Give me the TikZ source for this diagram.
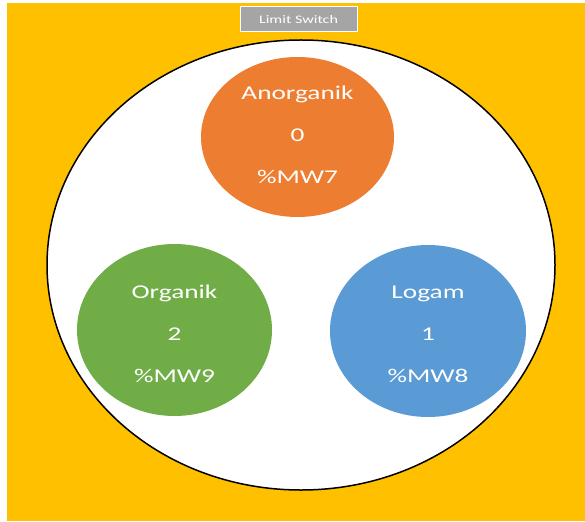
\documentclass[tikz,border=0pt]{standalone}
\usepackage{fontspec}
\setmainfont{Carlito}
\newfontfamily\widefont[FakeStretch=1.4]{Carlito}
\usetikzlibrary{shapes.geometric}
\definecolor{backgold}{HTML}{FFC000}
\definecolor{anorgorange}{HTML}{ED7D31}
\definecolor{orggreen}{HTML}{70AD47}
\definecolor{logamblue}{HTML}{5B9BD5}
\definecolor{switchgray}{HTML}{A5A5A5}
\begin{document}
\begin{tikzpicture}[
		x=1pt, y=-1pt,
		bin/.style={ellipse, inner sep=0, draw=none},
		bintext/.style={text=white, align=center, font=\widefont\fontsize{19.5}{42}\selectfont},
	]
	\useasboundingbox (0,0) rectangle (585,521);
	\fill[backgold] (7,3) rectangle (585,521);
	\node[draw=white, fill=switchgray, line width=1pt, minimum width=117, minimum height=25, inner sep=0,
		text=white, font=\widefont\fontsize{11.5}{12}\selectfont] (switch) at (298.5,19.5) {Limit Switch};
	\node[ellipse, draw=black, fill=white, line width=1.5pt, minimum width=508, minimum height=450, inner sep=0] (board) at (301,265) {};
	\node[bin, fill=anorgorange, minimum width=193, minimum height=160] (anorg) at (297.5,137) {};
	\node[bintext] (anorgtext) at (297.5,135) {Anorganik\\0\\\%MW7};
	\node[bin, fill=orggreen, minimum width=195, minimum height=172] (org) at (174.5,330) {};
	\node[bintext] (orgtext) at (174.5,334) {Organik\\2\\\%MW9};
	\node[bin, fill=logamblue, minimum width=196, minimum height=172] (logam) at (428,331) {};
	\node[bintext] (logamtext) at (428,334) {Logam\\1\\\%MW8};
\end{tikzpicture}
\end{document}
